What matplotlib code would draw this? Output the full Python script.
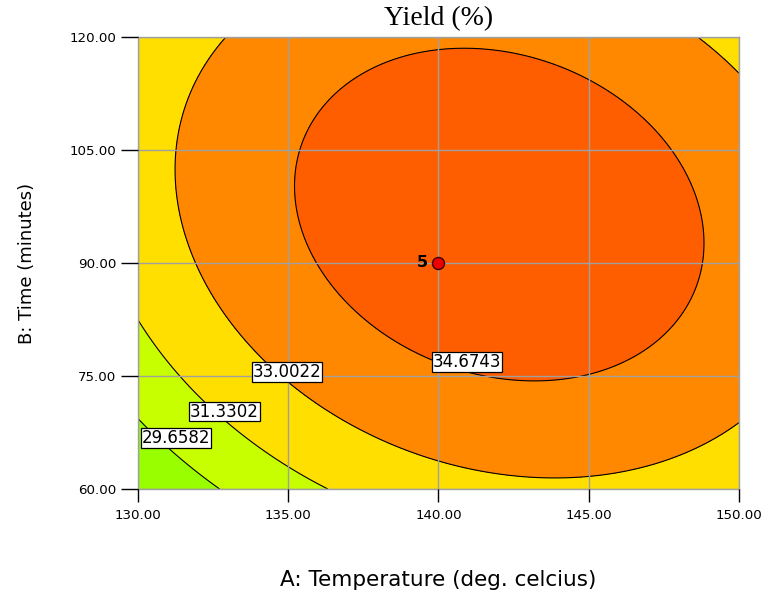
import numpy as np
import matplotlib
matplotlib.use("Agg")
import matplotlib.pyplot as plt

# ---- data ----
temperature_ticks = [130.0, 135.0, 140.0, 145.0, 150.0]   # A: deg. celcius
time_ticks = [60.0, 75.0, 90.0, 105.0, 120.0]             # B: minutes
contour_levels = [29.6582, 31.3302, 33.0022, 34.6743]
# quadratic response-surface model in coded units (Design-Expert style)
model_terms = ["Intercept", "A", "B", "AB", "A^2", "B^2"]
model_coefs = [35.5522, 1.1629, 1.0622, -0.7810, -2.4619, -2.1101]
center_temp = [140.0]
center_time = [90.0]
center_reps = ["5"]

# ---- styles ----
fill_colors = ['#99ff00', '#c8ff00', '#ffdf00', '#ff8800', '#ff5e00']
label_pos = {29.6582: (131.27, 66.73), 31.3302: (132.88, 70.28),
             33.0022: (134.96, 75.55), 34.6743: (140.95, 76.87)}

fig = plt.figure(figsize=(7.67, 5.91), dpi=100)
ax = fig.add_axes([0.17992, 0.17259, 0.78357, 0.76481])

T = np.linspace(temperature_ticks[0], temperature_ticks[-1], 400)
M = np.linspace(time_ticks[0], time_ticks[-1], 400)
TT, MM = np.meshgrid(T, M)
A = (TT - temperature_ticks[2]) / (temperature_ticks[-1] - temperature_ticks[2])
B = (MM - time_ticks[2]) / (time_ticks[-1] - time_ticks[2])
b0, bA, bB, bAB, bAA, bBB = model_coefs
Z = b0 + bA * A + bB * B + bAB * A * B + bAA * A * A + bBB * B * B

ax.contourf(TT, MM, Z, levels=[Z.min() - 1] + contour_levels + [Z.max() + 1],
            colors=fill_colors, zorder=0)
ax.contour(TT, MM, Z, levels=contour_levels, colors='k', linewidths=0.8, zorder=2)

ax.set_xlim(temperature_ticks[0], temperature_ticks[-1])
ax.set_ylim(time_ticks[0], time_ticks[-1])
ax.set_xticks(temperature_ticks)
ax.set_xticklabels([f"{v:.2f}" for v in temperature_ticks])
ax.set_yticks(time_ticks)
ax.set_yticklabels([f"{v:.2f}" for v in time_ticks])
ax.grid(True, color='#a0a0a0', linewidth=1.0, zorder=1)
ax.set_axisbelow(False)
for s in ax.spines.values():
    s.set_color('#a0a0a0')
    s.set_linewidth(1.0)
ax.tick_params(axis='x', direction='out', length=9.5, width=1.0, color='black',
               pad=5, labelsize=9.6, labelcolor='black')
ax.tick_params(axis='y', direction='out', length=12, width=1.0, color='black',
               pad=3.5, labelsize=9.6, labelcolor='black')
for lab in ax.get_xticklabels() + ax.get_yticklabels():
    lab.set_family('DejaVu Sans')

for lev in contour_levels:
    x, y = label_pos[lev]
    ax.text(x, y, f"{lev:.4f}", ha='center', va='center', fontsize=12,
            family='DejaVu Sans', color='black', zorder=5,
            bbox=dict(boxstyle='square,pad=0.05', fc='white', ec='black', lw=0.9))

ax.scatter(center_temp, center_time, s=75, c='#ee0000', edgecolors='#400000',
           linewidths=1.0, zorder=6)
for x, y, t in zip(center_temp, center_time, center_reps):
    ax.annotate(t, (x, y), xytext=(-7.5, 0.5), textcoords='offset points',
                ha='right', va='center', fontsize=11.5, fontweight='bold',
                family='DejaVu Sans', zorder=6)

ax.set_title("Yield (%)", family='Liberation Serif', fontsize=20, pad=8.5)
ax.set_xlabel("A: Temperature (deg. celcius)", family='DejaVu Sans', fontsize=15.5)
ax.xaxis.set_label_coords(0.5, -0.2146)
ax.xaxis.label.set_verticalalignment('baseline')
ax.set_ylabel("B: Time (minutes)", family='DejaVu Sans', fontsize=13)
ax.yaxis.set_label_coords(-0.170, 0.5)

fig.savefig("out.png", dpi=100)
